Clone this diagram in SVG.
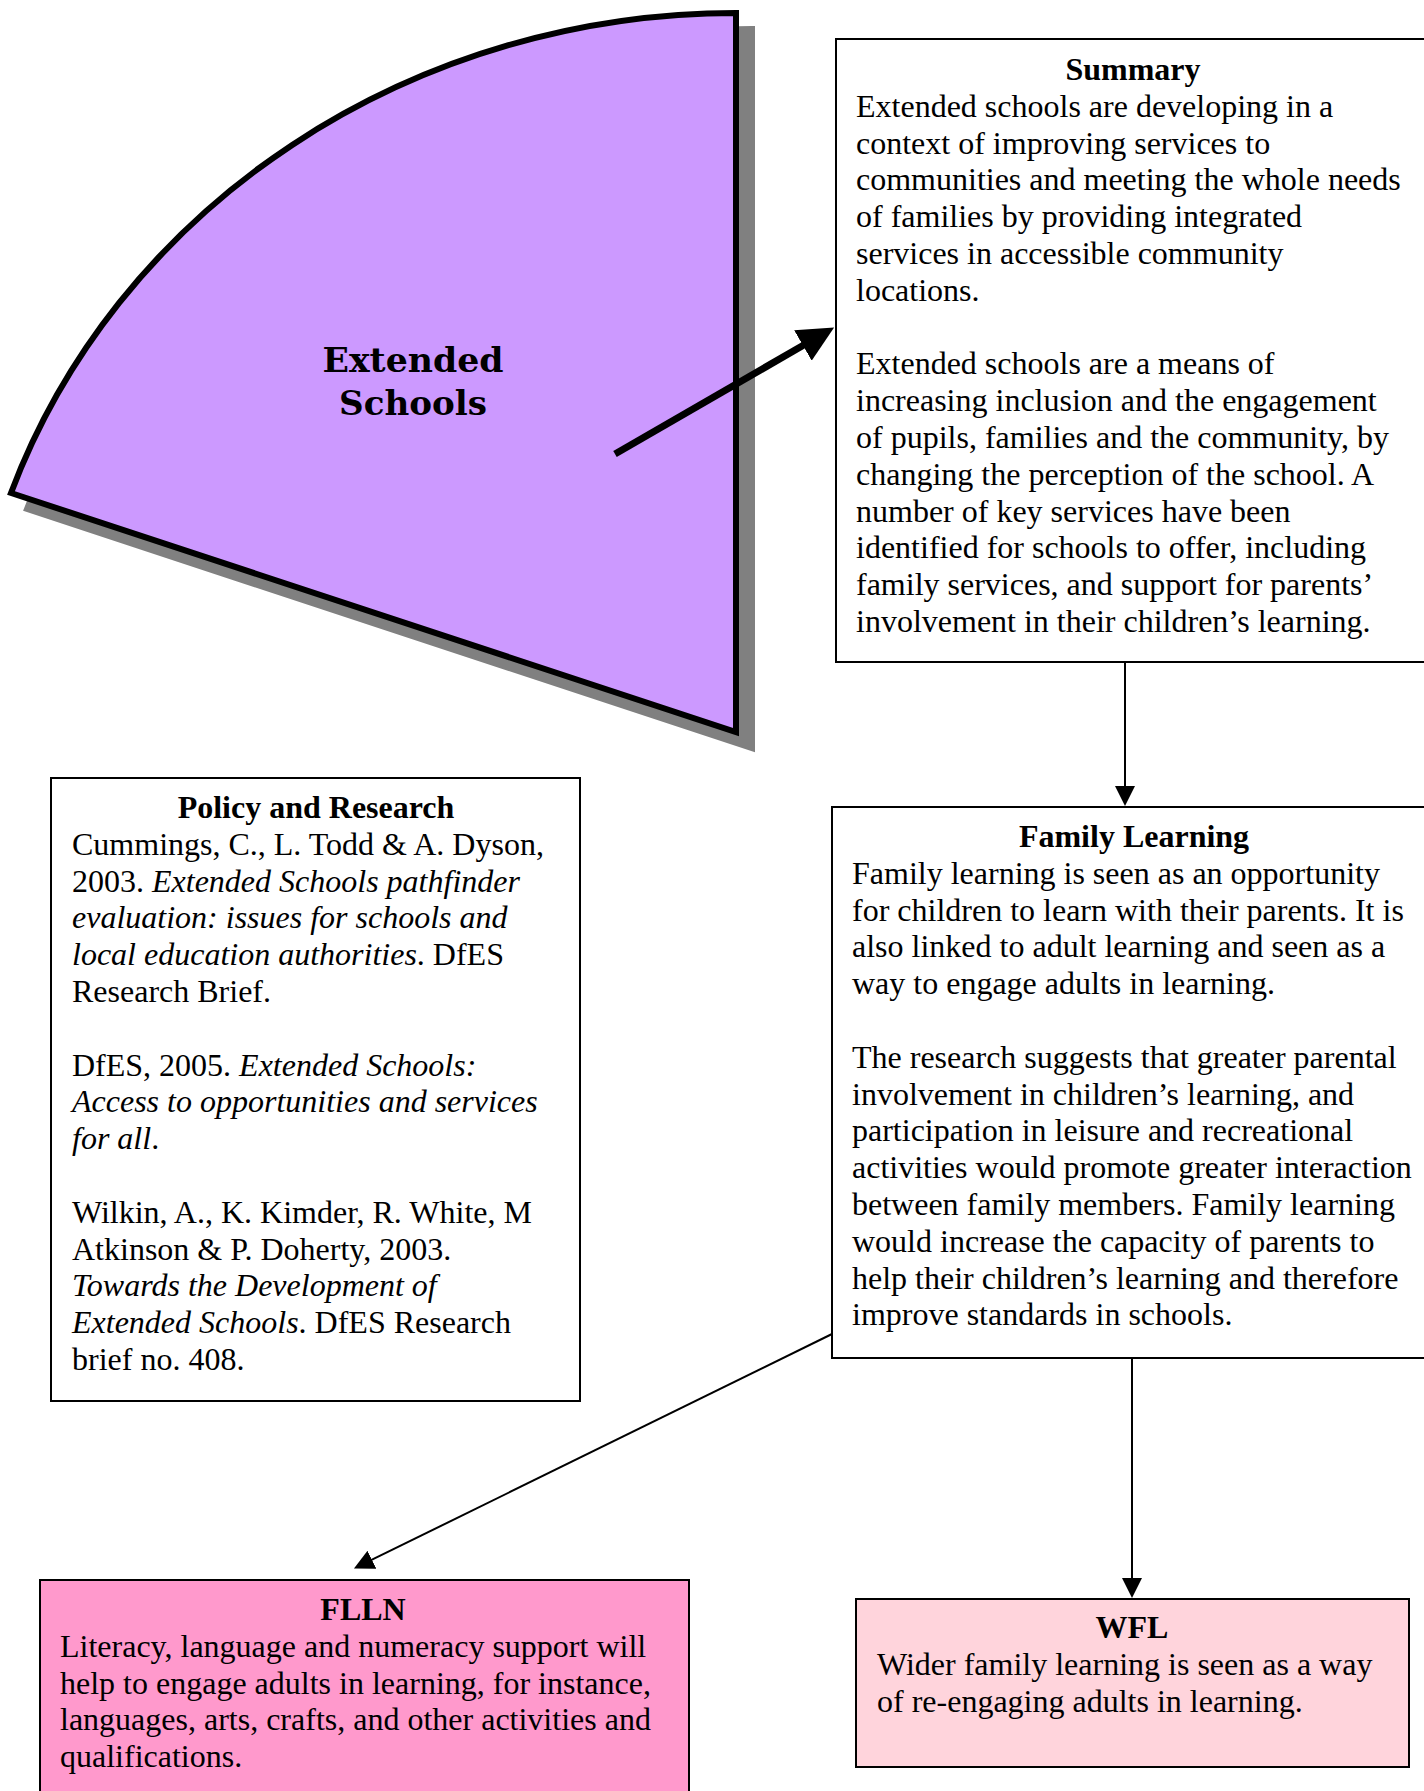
<svg xmlns="http://www.w3.org/2000/svg" width="1424" height="1791" viewBox="0 0 1424 1791">
<defs>
<style>
.box{stroke:#000;stroke-width:2;fill:#fff}
.t{font-family:"Liberation Serif","Times New Roman",serif;font-size:32px;fill:#000}
.h{font-family:"Liberation Serif","Times New Roman",serif;font-size:32px;font-weight:bold;fill:#000;text-anchor:middle}
.i{font-style:italic}
.es{font-family:"DejaVu Serif",serif;font-size:34px;font-weight:bold;fill:#000;text-anchor:middle}
.thin{stroke:#000;stroke-width:2;fill:none}
.thick{stroke:#000;stroke-width:7;fill:none}
</style>
<marker id="ah" markerUnits="userSpaceOnUse" markerWidth="21" markerHeight="20" refX="1" refY="10" orient="auto" viewBox="0 0 21 20">
<path d="M0,0 L20,10 L0,20 Z" fill="#000"/>
</marker>
<marker id="ahBig" markerUnits="userSpaceOnUse" markerWidth="37" markerHeight="35" refX="1" refY="17.5" orient="auto" viewBox="0 0 37 35">
<path d="M0,0 L36,17.5 L0,35 Z" fill="#000"/>
</marker>
</defs>
<rect width="1424" height="1791" fill="#fff"/>

<g id="node-extended-schools">
<path d="M736 13 L736 732 L11 493 A768.7 719 0 0 1 736 13 Z" transform="translate(16 16)" fill="#808080" stroke="#808080" stroke-width="6"/>
<path d="M736 13 L736 732 L11 493 A768.7 719 0 0 1 736 13 Z" fill="#CC99FF" stroke="#000" stroke-width="6"/>
<text class="es" x="413" y="372" textLength="181" lengthAdjust="spacingAndGlyphs">Extended</text>
<text class="es" x="413" y="415" textLength="148" lengthAdjust="spacingAndGlyphs">Schools</text>
</g>

<g id="node-summary">
<rect class="box" x="836" y="39" width="600" height="623"/>
<text class="h" x="1133" y="80">Summary</text>
<text class="t" x="856" y="116.8">Extended schools are developing in a</text>
<text class="t" x="856" y="153.6">context of improving services to</text>
<text class="t" x="856" y="190.4">communities and meeting the whole needs</text>
<text class="t" x="856" y="227.2">of families by providing integrated</text>
<text class="t" x="856" y="264">services in accessible community</text>
<text class="t" x="856" y="300.8">locations.</text>
<text class="t" x="856" y="374.4">Extended schools are a means of</text>
<text class="t" x="856" y="411.2">increasing inclusion and the engagement</text>
<text class="t" x="856" y="448">of pupils, families and the community, by</text>
<text class="t" x="856" y="484.8">changing the perception of the school. A</text>
<text class="t" x="856" y="521.6">number of key services have been</text>
<text class="t" x="856" y="558.4">identified for schools to offer, including</text>
<text class="t" x="856" y="595.2">family services, and support for parents’</text>
<text class="t" x="856" y="632">involvement in their children’s learning.</text>
</g>

<g id="node-family-learning">
<rect class="box" x="832" y="807" width="604" height="551"/>
<text class="h" x="1134" y="847">Family Learning</text>
<text class="t" x="852" y="883.8">Family learning is seen as an opportunity</text>
<text class="t" x="852" y="920.6">for children to learn with their parents. It is</text>
<text class="t" x="852" y="957.4">also linked to adult learning and seen as a</text>
<text class="t" x="852" y="994.2">way to engage adults in learning.</text>
<text class="t" x="852" y="1067.8">The research suggests that greater parental</text>
<text class="t" x="852" y="1104.6">involvement in children’s learning, and</text>
<text class="t" x="852" y="1141.4">participation in leisure and recreational</text>
<text class="t" x="852" y="1178.2">activities would promote greater interaction</text>
<text class="t" x="852" y="1215">between family members. Family learning</text>
<text class="t" x="852" y="1251.8">would increase the capacity of parents to</text>
<text class="t" x="852" y="1288.6">help their children’s learning and therefore</text>
<text class="t" x="852" y="1325.4">improve standards in schools.</text>
</g>

<g id="node-policy-research">
<rect class="box" x="51" y="778" width="529" height="623"/>
<text class="h" x="316" y="818">Policy and Research</text>
<text class="t" x="72" y="854.8">Cummings, C., L. Todd &amp; A. Dyson,</text>
<text class="t" x="72" y="891.6">2003. <tspan class="i">Extended Schools pathfinder</tspan></text>
<text class="t i" x="72" y="928.4">evaluation: issues for schools and</text>
<text class="t" x="72" y="965.2"><tspan class="i">local education authorities</tspan>. DfES</text>
<text class="t" x="72" y="1002">Research Brief.</text>
<text class="t" x="72" y="1075.6">DfES, 2005. <tspan class="i">Extended Schools:</tspan></text>
<text class="t i" x="72" y="1112.4">Access to opportunities and services</text>
<text class="t" x="72" y="1149.2"><tspan class="i">for all</tspan>.</text>
<text class="t" x="72" y="1222.8">Wilkin, A., K. Kimder, R. White, M</text>
<text class="t" x="72" y="1259.6">Atkinson &amp; P. Doherty, 2003.</text>
<text class="t i" x="72" y="1296.4">Towards the Development of</text>
<text class="t" x="72" y="1333.2"><tspan class="i">Extended Schools</tspan>. DfES Research</text>
<text class="t" x="72" y="1370">brief no. 408.</text>
</g>

<g id="node-flln">
<rect class="box" x="40" y="1580" width="649" height="230" style="fill:#FF99CC"/>
<text class="h" x="363" y="1620">FLLN</text>
<text class="t" x="60" y="1656.8">Literacy, language and numeracy support will</text>
<text class="t" x="60" y="1693.6">help to engage adults in learning, for instance,</text>
<text class="t" x="60" y="1730.4">languages, arts, crafts, and other activities and</text>
<text class="t" x="60" y="1767.2">qualifications.</text>
</g>

<g id="node-wfl">
<rect class="box" x="856" y="1599" width="553" height="168" style="fill:#FFD4DC"/>
<text class="h" x="1132" y="1638">WFL</text>
<text class="t" x="877" y="1675">Wider family learning is seen as a way</text>
<text class="t" x="877" y="1712">of re-engaging adults in learning.</text>
</g>

<g id="connectors">
<line class="thick" x1="615" y1="454" x2="803.8" y2="345" marker-end="url(#ahBig)"/>
<line class="thin" x1="1125" y1="662" x2="1125" y2="787" marker-end="url(#ah)"/>
<line class="thin" x1="1132" y1="1358" x2="1132" y2="1579" marker-end="url(#ah)"/>
<line class="thin" x1="832" y1="1334" x2="371" y2="1560.2" marker-end="url(#ah)"/>
</g>
</svg>
